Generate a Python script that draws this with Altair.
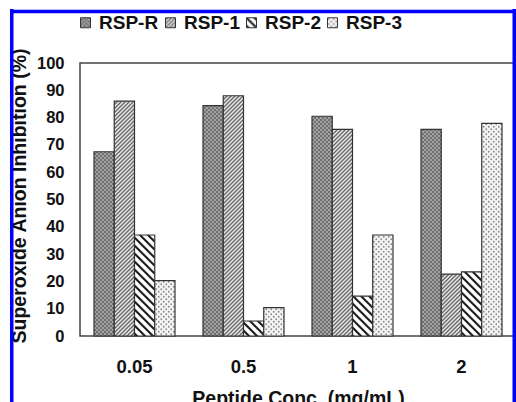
import jinja2
import altair as alt
import pandas as pd
from altair.utils.html import TEMPLATES

concs = ["0.05", "0.5", "1", "2"]
series = ["RSP-R", "RSP-1", "RSP-2", "RSP-3"]
rsp_r = [67.5, 84.4, 80.5, 75.7]
rsp_1 = [86.0, 88.0, 75.7, 22.7]
rsp_2 = [37.0, 5.5, 14.6, 23.5]
rsp_3 = [20.3, 10.4, 37.0, 77.9]
y_ticks = list(range(0, 101, 10))

rows = []
for name, vals in zip(series, [rsp_r, rsp_1, rsp_2, rsp_3]):
    for c, v in zip(concs, vals):
        rows.append({"conc": c, "series": name, "value": v})
df = pd.DataFrame(rows)

FONT = "Liberation Sans"
patterns = ["url(#pR)", "url(#p1)", "url(#p2)", "url(#p3)"]

bars = alt.Chart(df).mark_bar(stroke="#333333", strokeWidth=1.2).encode(
    x=alt.X("conc:N", sort=concs,
            scale=alt.Scale(paddingInner=0.257, paddingOuter=0.1285),
            axis=alt.Axis(title="Peptide Conc. (mg/mL)", labelAngle=0, ticks=False, tickSize=0,
                          domain=False, labelPadding=21, labelFont=FONT, labelFontSize=18.5,
                          labelFontWeight="bold", labelColor="#111111",
                          titleFont=FONT, titleFontSize=19.5, titleFontWeight="bold",
                          titleColor="#111111", titleY=53, titleX=218, titleBaseline="top")),
    xOffset=alt.XOffset("series:N", sort=series, scale=alt.Scale(paddingInner=0, paddingOuter=0)),
    y=alt.Y("value:Q", scale=alt.Scale(domain=[0, 100], nice=False),
            axis=alt.Axis(title="Superoxide Anion Inhibition (%)", values=y_ticks, grid=False,
                          ticks=False, tickSize=0, domain=False, labelPadding=16,
                          labelFont=FONT, labelFontSize=16.5, labelFontWeight="bold",
                          labelColor="#111111",
                          titleFont=FONT, titleFontSize=19.5, titleFontWeight="bold",
                          titleColor="#111111", titleX=-55, titleY=132.5, titleAngle=270,
                          titleAlign="center", titleBaseline="alphabetic")),
    color=alt.Color("series:N", sort=series,
                    scale=alt.Scale(domain=series, range=patterns),
                    legend=alt.Legend(title=None, orient="none", legendX=-4, legendY=-50,
                                      direction="horizontal", symbolType="square",
                                      symbolSize=100, symbolStrokeColor="#333333",
                                      symbolStrokeWidth=1, labelFont=FONT, labelFontSize=19,
                                      labelFontWeight="bold", labelColor="#111111",
                                      labelOffset=4, columnPadding=2, padding=0,
                                      symbolOpacity=1)),
)

frame_data = alt.Data(values=[{"k": 1}])
blue = "#0000ff"
left_border = alt.Chart(frame_data).mark_rule(color=blue, strokeWidth=3.5).encode(
    x=alt.value(-68.25), y=alt.value(-54), y2=alt.value(345))
top_border = alt.Chart(frame_data).mark_rule(color=blue, strokeWidth=3.5).encode(
    x=alt.value(-70), x2=alt.value(440), y=alt.value(-51.5))
right_border = alt.Chart(frame_data).mark_rule(color=blue, strokeWidth=3.5).encode(
    x=alt.value(434.25), y=alt.value(-54), y2=alt.value(345))

chart = alt.layer(bars, left_border, top_border, right_border).properties(
    width=436, height=273,
    autosize=alt.AutoSizeParams(type="none"),
    padding={"left": 80, "top": 63, "right": 0, "bottom": 66},
    background="white",
).configure_view(stroke="#444444", strokeWidth=1.5)

DEFS = """<svg width="0" height="0" style="position:absolute;left:0;top:0" aria-hidden="true"><defs>
<pattern id="pR" patternUnits="userSpaceOnUse" width="4" height="4">
<rect width="4" height="4" fill="#a3a3a3"/>
<rect x="0" y="0" width="2" height="2" fill="#707070"/>
<rect x="2" y="2" width="2" height="2" fill="#707070"/>
</pattern>
<pattern id="p1" patternUnits="userSpaceOnUse" width="4" height="4">
<rect width="4" height="4" fill="#e8e8e8"/>
<path d="M-1,1 l2,-2 M0,4 l4,-4 M3,5 l2,-2" stroke="#666666" stroke-width="1.3"/>
</pattern>
<pattern id="p2" patternUnits="userSpaceOnUse" width="8" height="8">
<rect width="8" height="8" fill="#ffffff"/>
<path d="M-2,6 l4,4 M0,0 l8,8 M6,-2 l4,4" stroke="#222222" stroke-width="2.2"/>
</pattern>
<pattern id="p3" patternUnits="userSpaceOnUse" width="5" height="5">
<rect width="5" height="5" fill="#f4f4f4"/>
<circle cx="1.25" cy="1.25" r="0.9" fill="#8a8a8a"/>
<circle cx="3.75" cy="3.75" r="0.9" fill="#8a8a8a"/>
</pattern>
</defs></svg>"""

base_tpl = TEMPLATES["standard"]


class PatternTemplate(jinja2.Template):
    def render(self, *args, **kwargs):
        html = base_tpl.render(*args, **kwargs)
        return html.replace("<body>", "<body>" + DEFS, 1)


tpl = PatternTemplate("{{ x }}")

chart.save("out.html", embed_options={"renderer": "svg", "actions": False}, template=tpl)
